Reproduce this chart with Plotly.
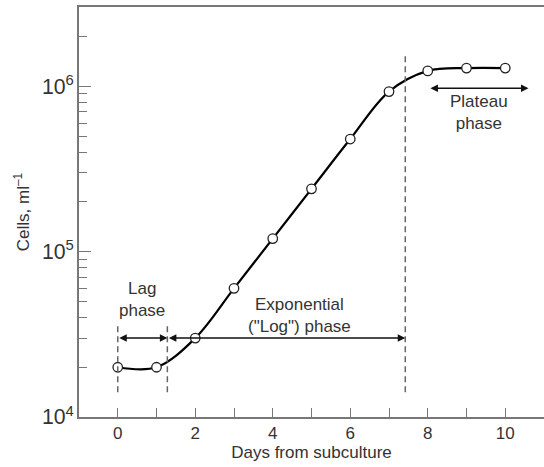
import plotly.graph_objects as go
import math

days = [0, 1, 2, 3, 4, 5, 6, 7, 8, 9, 10]
cells = [2.0e4, 2.0e4, 3.0e4, 6.0e4, 1.2e5, 2.4e5, 4.8e5, 9.3e5, 1.24e6, 1.29e6, 1.29e6]

# phase boundaries (days)
lag_start = 0
lag_end = 1.28
exp_end = 7.42
plateau_arrow = [8.03, 10.6]
phase_arrow_level = 3.0e4
plateau_arrow_level = 9.75e5

TXT = "#333333"
FONT = "Liberation Sans, Arial, sans-serif"

fig = go.Figure()
fig.add_trace(go.Scatter(
    x=days, y=cells, mode="lines+markers",
    line=dict(color="black", width=2.2, shape="spline", smoothing=1),
    marker=dict(size=9.5, color="white", line=dict(color="#222", width=1.3)),
    showlegend=False, hoverinfo="skip"))

L = math.log10
# dashed phase boundary lines
for x0, ytop in [(lag_start, 3.7e4), (lag_end, 3.7e4), (exp_end, 1.6e6)]:
    fig.add_shape(type="line", x0=x0, x1=x0, y0=1.41e4, y1=ytop,
                  xref="x", yref="y",
                  line=dict(color="#666", width=1.5, dash="6px,4px"))

def darrow(xa, xb, yv):
    fig.add_annotation(x=xb, y=L(yv), ax=xa, ay=L(yv), xref="x", yref="y",
                       axref="x", ayref="y", text="", showarrow=True,
                       arrowhead=2, arrowside="end+start", arrowsize=1,
                       arrowwidth=1.5, arrowcolor="#111")

darrow(lag_start, lag_end, phase_arrow_level)
darrow(lag_end, exp_end, phase_arrow_level)
darrow(plateau_arrow[0], plateau_arrow[1], plateau_arrow_level)

def label(x, y, t):
    fig.add_annotation(x=x, y=L(y), xref="x", yref="y", text=t, showarrow=False,
                       font=dict(family=FONT, size=17, color=TXT), align="center")

label(0.63, 10**4.708, "Lag<br>phase")
label(4.69, 10**4.617, "Exponential<br>(\"Log\") phase")
label(9.31, 10**5.844, "Plateau<br>phase")

fig.update_layout(
    width=544, height=467,
    margin=dict(l=79, r=0, t=7, b=50),
    paper_bgcolor="white", plot_bgcolor="white",
    font=dict(family=FONT, size=17, color=TXT),
    xaxis=dict(range=[-1, 11], dtick=2, tick0=0, ticks="inside", ticklen=9,
               tickwidth=1.2, tickcolor="#777", showgrid=False, zeroline=False,
               showline=True, linecolor="#777", linewidth=1.5, mirror=True,
               automargin=False,
               minor=dict(dtick=1, ticks="inside", ticklen=9, tickcolor="#777", showgrid=False),
               title=dict(text="Days from subculture", standoff=4,
                          font=dict(family=FONT, size=17, color=TXT))),
    yaxis=dict(type="log", range=[4, 6.48], dtick=1, exponentformat="power",
               showexponent="all", ticks="inside", ticklen=12, tickwidth=1.2,
               tickcolor="#777", showgrid=False, zeroline=False, showline=True,
               linecolor="#777", linewidth=1.5, mirror=True, automargin=False,
               minor=dict(dtick="D1", ticks="inside", ticklen=8, tickcolor="#777", showgrid=False),
               title=dict(text="Cells, ml<sup>–1</sup>", standoff=8,
                          font=dict(family=FONT, size=17, color=TXT))),
)

fig.write_html("out.html", config={"displayModeBar": False},
               post_script="document.body.style.margin='0';document.body.style.overflow='hidden';")
